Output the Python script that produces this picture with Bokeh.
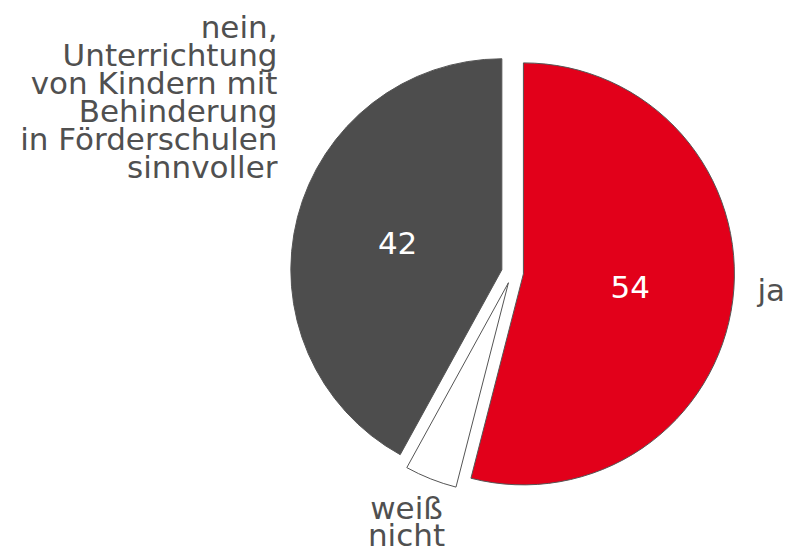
import numpy as np
from bokeh.plotting import figure
from bokeh.models import Range1d, ColumnDataSource
from bokeh.embed import file_html
from bokeh.resources import INLINE
from bokeh.core.properties import value

# ---- data ----
categories = ["ja", "weiß nicht", "nein"]
values = [54, 4, 42]
colors = ["#e2001a", "#ffffff", "#4d4d4d"]
value_labels = ["54", "", "42"]
nein_lines = ["nein,", "Unterrichtung", "von Kindern mit", "Behinderung",
              "in Förderschulen", "sinnvoller"]
weiss_lines = ["weiß", "nicht"]
ja_lines = ["ja"]

# ---- layout (pixel-like data units, origin at pie centre) ----
W, H = 787, 554
CX, CY = 512, 272          # pie centre in picture pixels
R = 211                    # radius
EXPLODE = 11               # explosion distance
FONT = "DejaVu Sans"
FS = "31px"
TXT = "#505050"

vals = np.array(values, dtype=float)
frac = vals / vals.sum()
cum = np.concatenate([[0], np.cumsum(frac)])
th0 = 2 * np.pi * cum[:-1]     # clockwise from top
th1 = 2 * np.pi * cum[1:]
mid = (th0 + th1) / 2
ox = EXPLODE * np.sin(mid)
oy = EXPLODE * np.cos(mid)

src = ColumnDataSource(dict(
    x=ox, y=oy,
    start=np.pi / 2 - th0, end=np.pi / 2 - th1,
    color=colors, cat=categories,
    lx=ox + 0.51 * R * np.sin(mid), ly=oy + 0.51 * R * np.cos(mid),
    lab=value_labels,
))

p = figure(width=W, height=H, output_backend="svg", toolbar_location=None,
           x_range=Range1d(-CX, W - CX), y_range=Range1d(CY - H, CY),
           min_border=0, outline_line_color=None)
p.axis.visible = False
p.grid.visible = False
p.background_fill_color = "white"
p.border_fill_color = "white"

p.wedge(x="x", y="y", radius=R, start_angle="start", end_angle="end",
        direction="clock", fill_color="color", line_color="#555555",
        line_width=1, source=src)

p.text(x="lx", y="ly", text="lab", source=src, text_color="white",
       text_font=value(FONT), text_font_size=FS,
       text_align="center", text_baseline="middle")

# outer category labels (text_baseline="middle"; y = centre of each line)
lh = 28
p.text(x=[277 - CX] * len(nein_lines),
       y=[(CY - 26) - lh * i for i in range(len(nein_lines))],
       text=nein_lines, text_color=TXT, text_font=value(FONT),
       text_font_size=FS, text_align="right", text_baseline="middle")
p.text(x=[406 - CX] * len(weiss_lines),
       y=[(CY - 507) - 27 * i for i in range(len(weiss_lines))],
       text=weiss_lines, text_color=TXT, text_font=value(FONT),
       text_font_size=FS, text_align="center", text_baseline="middle")
p.text(x=[757 - CX], y=[CY - 289], text=ja_lines, text_color=TXT,
       text_font=value(FONT), text_font_size=FS, text_align="left",
       text_baseline="middle")

open("out.html", "w").write(file_html(p, INLINE))
